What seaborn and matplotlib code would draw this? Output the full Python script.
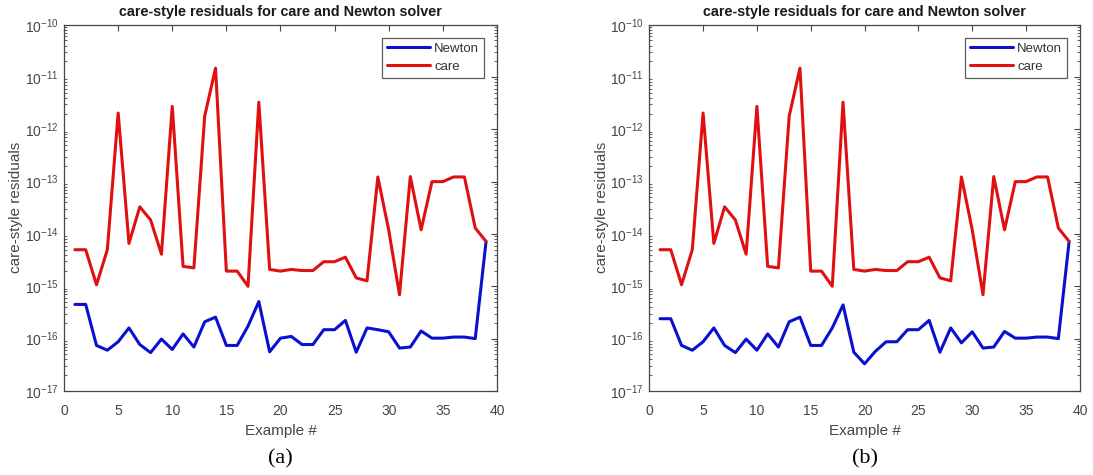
import numpy as np
import pandas as pd
import matplotlib
matplotlib.use("Agg")
import matplotlib.pyplot as plt
import seaborn as sns
from matplotlib.ticker import NullFormatter, FixedLocator, LogFormatterSciNotation

examples = list(range(1, 40))

care_a = [5e-15, 5e-15, 1.07e-15, 5e-15, 2.05e-12, 6.6e-15, 3.3e-14, 1.85e-14, 4.1e-15, 2.75e-12,
          2.4e-15, 2.25e-15, 1.8e-12, 1.48e-11, 1.95e-15, 1.95e-15, 1.0e-15, 3.3e-12, 2.1e-15, 1.95e-15,
          2.1e-15, 2.0e-15, 2.0e-15, 2.95e-15, 2.95e-15, 3.6e-15, 1.45e-15, 1.27e-15, 1.23e-13, 1.2e-14,
          6.9e-16, 1.25e-13, 1.2e-14, 1.0e-13, 1.0e-13, 1.23e-13, 1.23e-13, 1.3e-14, 7.2e-15]

newton_a = [4.5e-16, 4.5e-16, 7.4e-17, 6.0e-17, 8.7e-17, 1.6e-16, 7.7e-17, 5.4e-17, 9.8e-17, 6.2e-17,
            1.23e-16, 6.9e-17, 2.1e-16, 2.57e-16, 7.4e-17, 7.4e-17, 1.73e-16, 5.1e-16, 5.6e-17, 1.02e-16,
            1.1e-16, 7.7e-17, 7.7e-17, 1.48e-16, 1.48e-16, 2.23e-16, 5.5e-17, 1.6e-16, 1.48e-16, 1.35e-16,
            6.6e-17, 6.9e-17, 1.4e-16, 1.02e-16, 1.02e-16, 1.07e-16, 1.07e-16, 1.0e-16, 7.2e-15]

care_b = list(care_a)

newton_b = [2.4e-16, 2.4e-16, 7.4e-17, 6.0e-17, 8.7e-17, 1.6e-16, 7.4e-17, 5.4e-17, 9.8e-17, 6.0e-17,
            1.23e-16, 6.9e-17, 2.1e-16, 2.57e-16, 7.4e-17, 7.4e-17, 1.6e-16, 4.4e-16, 5.5e-17, 3.3e-17,
            5.7e-17, 8.7e-17, 8.7e-17, 1.48e-16, 1.48e-16, 2.23e-16, 5.5e-17, 1.6e-16, 8.3e-17, 1.35e-16,
            6.6e-17, 6.9e-17, 1.37e-16, 1.02e-16, 1.02e-16, 1.07e-16, 1.07e-16, 1.0e-16, 7.2e-15]

series_names = ["Newton", "care"]
panel_labels = ["(a)", "(b)"]
title_text = "care-style residuals for care and Newton solver"
xlabel_text = "Example #"
ylabel_text = "care-style residuals"
xticks = [0, 5, 10, 15, 20, 25, 30, 35, 40]
y_exponents = [-17, -16, -15, -14, -13, -12, -11, -10]

sns.set_theme(style="white")
plt.rcParams['font.family'] = ['Liberation Sans', 'DejaVu Sans']
plt.rcParams['mathtext.fontset'] = 'custom'
plt.rcParams['mathtext.rm'] = 'Liberation Sans'
plt.rcParams['mathtext.it'] = 'Liberation Sans'

fig = plt.figure(figsize=(10.93, 4.75), dpi=100)
ax_a = fig.add_axes([0.0586, 0.177, 0.396, 0.771])
ax_b = fig.add_axes([0.594, 0.177, 0.394, 0.771])

palette = {"Newton": "#0a10d0", "care": "#e01010"}
gray = "#454545"

major_y = [10.0 ** e for e in y_exponents]
minor_y = [m * 10.0 ** e for e in y_exponents[:-1] for m in range(2, 10)]

for ax, newton, care, lab in [(ax_a, newton_a, care_a, panel_labels[0]),
                              (ax_b, newton_b, care_b, panel_labels[1])]:
    df = pd.DataFrame({
        "Example": examples * 2,
        "value": newton + care,
        "series": [series_names[0]] * len(examples) + [series_names[1]] * len(examples),
    })
    sns.lineplot(data=df, x="Example", y="value", hue="series", hue_order=series_names,
                 palette=palette, linewidth=2.2, ax=ax, legend=True)
    ax.set_yscale("log")
    ax.set_ylim(1e-17, 1e-10)
    ax.set_xlim(0, 40)
    ax.xaxis.set_major_locator(FixedLocator(xticks))
    ax.yaxis.set_major_locator(FixedLocator(major_y))
    ax.yaxis.set_major_formatter(LogFormatterSciNotation(base=10))
    ax.yaxis.set_minor_locator(FixedLocator(minor_y))
    ax.yaxis.set_minor_formatter(NullFormatter())
    ax.tick_params(axis="both", which="both", direction="in", top=True, right=True,
                   colors=gray, labelcolor=gray, labelsize=10)
    ax.tick_params(axis="both", which="major", length=4, width=0.8)
    ax.tick_params(axis="y", which="minor", length=2, width=0.6, left=True, right=True)
    ax.tick_params(axis="y", which="major", pad=4)
    ax.tick_params(axis="x", which="major", pad=9.5)
    for sp in ax.spines.values():
        sp.set_color(gray)
        sp.set_linewidth(0.9)
    ax.set_title(title_text, fontsize=10.4, fontweight="bold", color="#1a1a1a", pad=6)
    ax.set_xlabel(xlabel_text, fontsize=11, color=gray, labelpad=4)
    ax.set_ylabel(ylabel_text, fontsize=11, color=gray, labelpad=1)
    ax.grid(False)
    leg = ax.legend(loc="upper right", fontsize=9.5, frameon=True, fancybox=False,
                    borderaxespad=1.0, handlelength=3.3, handletextpad=0.3,
                    borderpad=0.35, labelspacing=0.45)
    leg.get_frame().set_edgecolor("#333333")
    leg.get_frame().set_linewidth(0.9)
    for t in leg.get_texts():
        t.set_color("#333333")
    for h in leg.get_lines():
        h.set_linewidth(2.2)
    pos = ax.get_position()
    fig.text((pos.x0 + pos.x1) / 2, 0.033, lab, ha="center", va="center",
             fontsize=16, family=["Liberation Serif", "DejaVu Serif"], color="black")

fig.savefig("out.png", dpi=100)
